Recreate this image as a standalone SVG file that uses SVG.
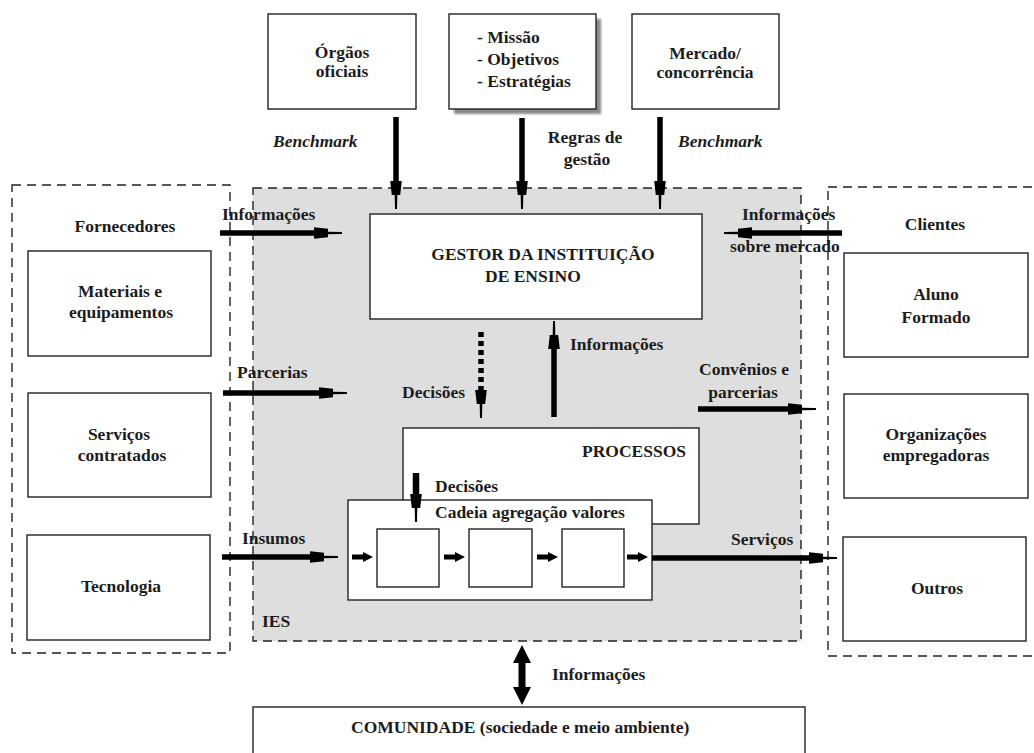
<svg xmlns="http://www.w3.org/2000/svg" width="1034" height="753" viewBox="0 0 1034 753">
  <style>
    text { font-family: "Liberation Serif", "Times New Roman", serif; font-weight: bold; font-size: 17.5px; fill: #1c1c1c; }
    .c { text-anchor: middle; }
    .e { text-anchor: end; }
    .it { font-style: italic; }
    .box { fill: #ffffff; stroke: #222222; stroke-width: 1.4; }
    .zone { fill: none; stroke: #222222; stroke-width: 1.4; stroke-dasharray: 9 6; }
    .ies { fill: #dedede; stroke: #222222; stroke-width: 1.4; stroke-dasharray: 9 6; }
    .flow { fill: none; stroke: #000000; stroke-width: 5.5; marker-end: url(#head); }
    .dots { fill: none; stroke: #000000; stroke-width: 5.5; stroke-dasharray: 5 4; marker-end: url(#head); }
    .solid { fill: #000000; }
  </style>
  <defs>
    <!-- tapered head: wide block then a thin spike, drawn forward from the line end -->
    <marker id="head" markerUnits="userSpaceOnUse" orient="auto" refX="0" refY="0" markerWidth="40" markerHeight="20" viewBox="0 -10 40 20" overflow="visible">
      <polygon points="0,-5.8 14,-4.2 14,-1.3 28,-1 28,1 14,1.3 14,4.2 0,5.8" fill="#000000"/>
    </marker>
    <filter id="soft" x="-10%" y="-10%" width="120%" height="120%">
      <feGaussianBlur stdDeviation="1.2"/>
    </filter>
  </defs>

  <!-- background zones -->
  <g id="ies">
    <rect class="ies" x="253" y="188" width="548" height="453"/>
    <text x="262" y="627">IES</text>
  </g>
  <g id="fornecedores">
    <rect class="zone" x="12" y="185" width="218" height="468"/>
    <text class="c" x="125" y="232">Fornecedores</text>
  </g>
  <g id="clientes">
    <rect class="zone" x="828" y="187" width="220" height="469"/>
    <text class="c" x="935" y="230">Clientes</text>
  </g>

  <!-- external top nodes -->
  <g id="orgaos">
    <rect class="box" x="268" y="14" width="148" height="95"/>
    <text class="c" x="342" y="58">Órgãos</text>
    <text class="c" x="342" y="77">oficiais</text>
  </g>
  <g id="missao">
    <rect x="454" y="19" width="147" height="95" fill="#8a8a8a" filter="url(#soft)"/>
    <rect class="box" x="449" y="14" width="147" height="95"/>
    <text x="477" y="43">- Missão</text>
    <text x="477" y="65">- Objetivos</text>
    <text x="477" y="87">- Estratégias</text>
  </g>
  <g id="mercado">
    <rect class="box" x="632" y="14" width="147" height="95"/>
    <text class="c" x="705" y="59">Mercado/</text>
    <text class="c" x="705" y="78">concorrência</text>
  </g>

  <!-- suppliers -->
  <g id="materiais">
    <rect class="box" x="28" y="251" width="183" height="105"/>
    <text class="c" x="120" y="297">Materiais e</text>
    <text class="c" x="121" y="318">equipamentos</text>
  </g>
  <g id="servicos-contratados">
    <rect class="box" x="28" y="393" width="183" height="104"/>
    <text class="c" x="119" y="440">Serviços</text>
    <text class="c" x="122" y="461">contratados</text>
  </g>
  <g id="tecnologia">
    <rect class="box" x="27" y="535" width="183" height="105"/>
    <text class="c" x="121" y="592">Tecnologia</text>
  </g>

  <!-- clients -->
  <g id="aluno">
    <rect class="box" x="844" y="253" width="184" height="104"/>
    <text class="c" x="936" y="300">Aluno</text>
    <text class="c" x="936" y="323">Formado</text>
  </g>
  <g id="organizacoes">
    <rect class="box" x="844" y="394" width="184" height="104"/>
    <text class="c" x="936" y="440">Organizações</text>
    <text class="c" x="936" y="461">empregadoras</text>
  </g>
  <g id="outros">
    <rect class="box" x="843" y="537" width="183" height="104"/>
    <text class="c" x="937" y="594">Outros</text>
  </g>

  <!-- institution internals -->
  <g id="gestor">
    <rect class="box" x="370" y="214" width="332" height="105"/>
    <text class="c" x="543" y="260">GESTOR DA INSTITUIÇÃO</text>
    <text x="485" y="282">DE ENSINO</text>
  </g>
  <g id="processos">
    <rect class="box" x="403" y="428" width="296" height="96"/>
    <text class="e" x="686" y="457">PROCESSOS</text>
  </g>
  <g id="cadeia">
    <rect class="box" x="348" y="500" width="304" height="100"/>
    <text x="435" y="518">Cadeia agregação valores</text>
    <rect class="box" x="377" y="529" width="62" height="58"/>
    <rect class="box" x="469" y="529" width="63" height="58"/>
    <rect class="box" x="562" y="529" width="62" height="58"/>
  </g>

  <g id="comunidade">
    <rect class="box" x="253" y="707" width="552" height="60"/>
    <text x="351" y="733">COMUNIDADE (sociedade e meio ambiente)</text>
  </g>

  <!-- connectors -->
  <g id="connectors">
    <path class="flow" d="M396 117 V181"/>
    <path class="flow" d="M522 118 V181"/>
    <path class="flow" d="M660 117 V181"/>
    <text class="it" x="273" y="147">Benchmark</text>
    <text class="it" x="678" y="147">Benchmark</text>
    <text class="c" x="585" y="143">Regras de</text>
    <text class="c" x="587" y="165">gestão</text>

    <path class="flow" d="M220 233 H314"/>
    <text x="222" y="220">Informações</text>
    <path class="flow" d="M223 393 H319"/>
    <text x="237" y="378">Parcerias</text>
    <path class="flow" d="M222 557 H310"/>
    <text x="242" y="544">Insumos</text>

    <path class="flow" d="M842 233 H752"/>
    <text x="742" y="220">Informações</text>
    <text x="730" y="252">sobre mercado</text>
    <path class="flow" d="M698 409 H788"/>
    <text x="699" y="375">Convênios e</text>
    <text class="c" x="743" y="398">parcerias</text>

    <path class="dots" d="M481 332 V390"/>
    <text x="402" y="398">Decisões</text>
    <path class="flow" d="M554 417 V349"/>
    <text x="570" y="350">Informações</text>
    <path class="flow" d="M416 473 V494" style="stroke-width:6.5"/>
    <text x="435" y="492">Decisões</text>

    <!-- value chain steps -->
    <polygon class="solid" points="352,554.5 363,554.5 363,552 373,557 363,562 363,559.5 352,559.5"/>
    <polygon class="solid" points="444,554.5 455,554.5 455,552 465,557 455,562 455,559.5 444,559.5"/>
    <polygon class="solid" points="537,554.5 548,554.5 548,552 558,557 548,562 548,559.5 537,559.5"/>
    <polygon class="solid" points="627,554.5 638,554.5 638,552 648,557 638,562 638,559.5 627,559.5"/>

    <path class="flow" d="M652 558 H809"/>
    <text x="731" y="545">Serviços</text>

    <polygon class="solid" points="522,645 531,663 525.5,663 525.5,687 531,687 522,705 513,687 518.5,687 518.5,663 513,663"/>
    <text x="552" y="680">Informações</text>
  </g>
</svg>
